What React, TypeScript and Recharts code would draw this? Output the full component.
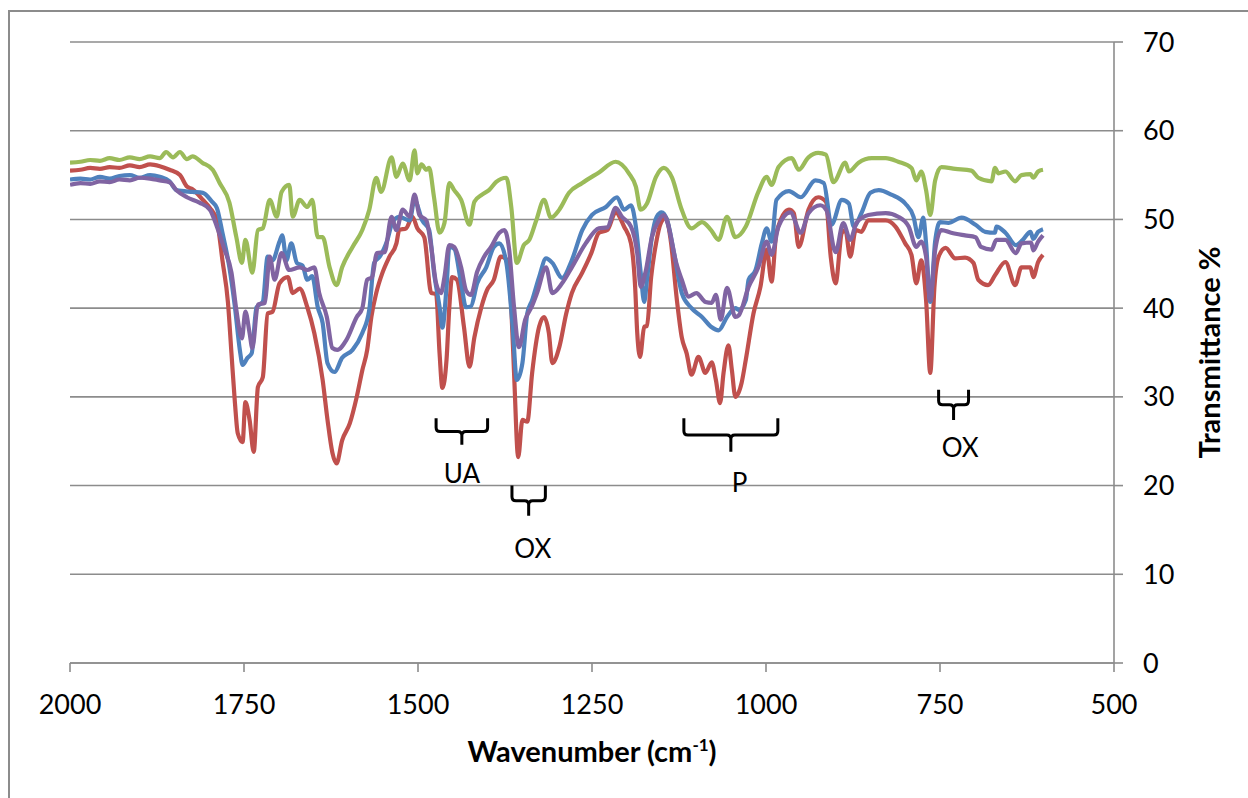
import React from 'react'
import { LineChart, Line, XAxis, YAxis, CartesianGrid, ReferenceArea, ReferenceDot, Label } from 'recharts'

type Pt = [number, number]

const xTicks = [2000, 1750, 1500, 1250, 1000, 750, 500]
const yTicks = [0, 10, 20, 30, 40, 50, 60, 70]

// wavenumber (cm-1), transmittance (%)
const redSpectrum: Pt[] = [
  [2000, 55.5], [1985, 55.6], [1971, 55.8], [1957, 55.7], [1943, 55.9], [1929, 55.8], [1914, 56.1], [1900, 55.9],
  [1885, 56.2], [1871, 56], [1857, 55.6], [1842, 55], [1832, 53.7], [1824, 53.4],
  [1809, 52.2], [1799, 51.3], [1789, 49.9], [1781, 45.4], [1773, 40.6], [1768, 34.9], [1763, 29.3], [1759, 25.9],
  [1752, 24.9], [1748, 29.4], [1742, 27.4], [1736, 23.8], [1730, 31.1], [1723, 32.2], [1716, 39.4], [1709, 39.6],
  [1699, 42.8], [1687, 43.5], [1680, 41.7], [1670, 42.2], [1659, 40.1], [1649, 37.2], [1637, 31.9], [1630, 27.4],
  [1623, 23.7], [1617, 22.5], [1609, 25.1], [1598, 27], [1588, 30], [1580, 33], [1573, 35.3], [1567, 39],
  [1560, 41.7], [1551, 44], [1541, 45.8], [1531, 47.3], [1527, 48.8], [1517, 49], [1508, 50.3], [1501, 49],
  [1491, 48], [1481, 41.7], [1474, 41.6], [1469, 34.9], [1465, 31], [1459, 34.2], [1455, 40.1], [1451, 43.5],
  [1444, 43.2], [1434, 37.9], [1426, 33.4], [1419, 36.7], [1409, 40.1], [1401, 42], [1391, 43.2], [1381, 45.8],
  [1373, 45.5], [1366, 40.1], [1362, 32.7], [1356, 23.2], [1350, 27.4], [1343, 27.2], [1336, 32.7], [1326, 37.9],
  [1319, 39], [1312, 37.2], [1307, 33.8], [1297, 35.6], [1287, 39.4], [1279, 41.7], [1264, 44], [1251, 46.2],
  [1240, 48.5], [1228, 48.8], [1216, 50.8], [1204, 49.2], [1194, 47.3], [1188, 42.4], [1185, 37.2], [1181, 34.5],
  [1175, 37.9], [1171, 38], [1165, 43.5], [1158, 47.3], [1151, 49.6], [1144, 50.2], [1137, 47.7], [1128, 40.9],
  [1121, 36.7], [1114, 34.9], [1107, 32.5], [1097, 34.5], [1087, 32.7], [1078, 33.9], [1072, 31.9], [1066, 29.3],
  [1061, 32.7], [1054, 35.8], [1049, 33], [1044, 30], [1035, 31.6], [1029, 34.2], [1018, 39.4], [1008, 42.4],
  [999, 46.6], [992, 43], [985, 48.5], [967, 51.1], [960, 50.7], [953, 46.9], [939, 51.1], [925, 52.5],
  [914, 52], [907, 45.8], [900, 42.8], [891, 48.5], [886, 48.8], [879, 45.8], [871, 48.8], [863, 48.6],
  [853, 49.9], [828, 49.9], [814, 49.2], [800, 47.3], [791, 46], [784, 42.8], [777, 45.4], [770, 40.9],
  [764, 32.7], [758, 42.4], [752, 45.8], [742, 46.8], [728, 45.6], [714, 45.7], [702, 45.1], [695, 43.2],
  [681, 42.6], [671, 43.7], [656, 45.2], [642, 42.6], [633, 44.6], [620, 44.6], [616, 43.5], [609, 45.2],
  [602, 46],
]

const greenSpectrum: Pt[] = [
  [2000, 56.4], [1985, 56.5], [1971, 56.7], [1957, 56.6], [1943, 56.9], [1929, 56.7], [1914, 57], [1900, 56.8],
  [1885, 57.1], [1871, 56.9], [1862, 57.6], [1852, 57], [1842, 57.6], [1832, 56.8], [1824, 57.1], [1810, 56.4],
  [1795, 55.6],
  [1785, 54.1], [1771, 51.9], [1761, 48], [1753, 45.1], [1748, 47.7], [1738, 44], [1730, 48.8], [1723, 49],
  [1713, 52.2], [1703, 50.3], [1696, 53.1], [1685, 53.9], [1680, 50.3], [1670, 52.2], [1659, 51.4], [1652, 52.2],
  [1644, 48], [1637, 48], [1627, 44.6], [1617, 42.6], [1609, 44.6], [1594, 46.9], [1580, 48.8], [1570, 51.1],
  [1560, 54.7], [1553, 53.1], [1538, 57], [1531, 54.8], [1522, 56.3], [1512, 54.4], [1505, 57.8], [1501, 55.2],
  [1495, 56.2], [1488, 55.6], [1484, 55.8], [1477, 52.5], [1469, 48.5], [1462, 49.6], [1455, 54.1], [1448, 53.3],
  [1438, 52.2], [1426, 49.4], [1419, 52], [1408, 52.8], [1398, 53.3], [1388, 54.2], [1373, 54.7], [1366, 51.4],
  [1358, 45.1], [1348, 47.1], [1340, 47.7], [1330, 49.9], [1319, 52.2], [1309, 50.2], [1297, 51.1], [1283, 53],
  [1264, 54.1], [1240, 55.3], [1216, 56.5], [1197, 55.2], [1187, 53.7], [1180, 51.1], [1171, 51.8], [1158, 54.8],
  [1147, 55.8], [1135, 54.7], [1122, 51.3], [1107, 49], [1092, 49.7], [1079, 48.8], [1068, 47.7], [1056, 50.3],
  [1044, 48], [1029, 49.2], [1011, 53.1], [999, 54.8], [992, 53.9], [982, 55.9], [963, 56.9], [953, 55.6],
  [939, 57], [925, 57.5], [914, 57.3], [903, 54.2], [886, 56.4], [881, 55.4], [867, 56.4], [848, 56.9],
  [828, 56.9], [810, 56.5], [791, 55.8], [784, 54.4], [777, 55.4], [770, 53.3], [764, 50.5], [757, 54.4],
  [748, 55.9], [728, 55.7], [705, 55.5], [695, 54.7], [676, 54.3], [671, 55.8], [666, 55.2], [656, 55.4],
  [642, 54.3], [633, 55], [620, 55.1], [616, 54.7], [609, 55.4], [602, 55.6],
]

const blueSpectrum: Pt[] = [
  [2000, 54.5], [1985, 54.6], [1971, 54.5], [1957, 54.8], [1943, 54.6], [1929, 54.9], [1914, 55], [1900, 54.7],
  [1885, 55], [1871, 54.8], [1857, 54.3], [1847, 53.3], [1824, 53.1], [1809, 53],
  [1796, 52], [1789, 51.3], [1781, 48.5], [1771, 44.6], [1763, 40.1], [1756, 35.3], [1752, 33.6], [1745, 34.4],
  [1739, 34.9], [1732, 40.1], [1723, 40.7], [1716, 45.8], [1709, 45.4], [1699, 47.5], [1695, 48.2], [1689, 45.4],
  [1682, 47.3], [1674, 45.1], [1666, 44.8], [1659, 43.2], [1652, 43.6], [1644, 40.1], [1637, 38.3], [1630, 33.8],
  [1620, 32.8], [1609, 34.4], [1594, 35.3], [1580, 37.2], [1570, 39.8], [1563, 45.1], [1555, 45.8], [1544, 47.7],
  [1537, 49.6], [1527, 50.3], [1512, 49.9], [1505, 52.2], [1494, 49.9], [1484, 48.8], [1477, 44], [1469, 40.1],
  [1465, 37.8], [1459, 42.4], [1455, 46.9], [1448, 46.7], [1438, 42.8], [1431, 40.1], [1424, 40.2], [1415, 42.8],
  [1402, 44.6], [1391, 46.9], [1383, 47.3], [1373, 45.1], [1364, 37.9], [1358, 31.9], [1350, 33.8], [1343, 39.4],
  [1336, 40.9], [1326, 43.5], [1316, 45.6], [1307, 45.1], [1293, 43.4], [1279, 45.4], [1264, 48.8], [1250, 50.5],
  [1230, 51.4], [1214, 52.5], [1204, 51.1], [1194, 51.6], [1187, 49.2], [1180, 44], [1175, 40.7], [1171, 43.2],
  [1164, 48], [1157, 50.3], [1150, 50.8], [1142, 49.9], [1132, 46.2], [1121, 41.7], [1107, 40], [1092, 39],
  [1079, 37.9], [1068, 37.5], [1056, 39], [1044, 40], [1039, 39.8], [1029, 40.9], [1025, 43.2], [1015, 44.3],
  [1006, 47.3], [999, 49], [992, 47.5], [985, 52.2], [967, 53.2], [950, 52.5], [929, 54.4], [917, 54.1],
  [906, 49.4], [891, 52.2], [881, 51.8], [874, 49.2], [863, 50.7], [850, 53], [838, 53.3], [820, 52.8],
  [800, 51.8], [788, 50.3], [781, 48], [774, 50.2], [770, 47.3], [764, 40.7], [757, 47.5], [750, 49.7],
  [738, 49.6], [719, 50.2], [699, 49.4], [685, 48.6], [671, 48.5], [669, 49.2], [656, 48.5], [641, 47.1],
  [631, 47.7], [620, 48.6], [616, 47.8], [609, 48.6], [602, 48.9],
]

const purpleSpectrum: Pt[] = [
  [2000, 53.9], [1985, 54.1], [1971, 54], [1957, 54.3], [1943, 54.2], [1929, 54.5], [1914, 54.4], [1900, 54.7],
  [1885, 54.6], [1871, 54.4], [1857, 54.2], [1847, 53.3], [1832, 52.5], [1814, 51.9],
  [1799, 51.1], [1789, 49.2], [1778, 46.6], [1768, 44], [1761, 39.8], [1753, 36.6], [1748, 39.6], [1742, 37.2],
  [1738, 35.5], [1730, 40.4], [1720, 40.6], [1713, 45.8], [1706, 43.2], [1696, 46.2], [1685, 44.3], [1670, 44.6],
  [1659, 44.3], [1649, 44.6], [1642, 41.7], [1631, 39], [1623, 35.5], [1616, 35.3], [1603, 36.4], [1588, 39],
  [1580, 40], [1573, 43.2], [1566, 43.5], [1559, 46.2], [1548, 46.3], [1538, 50.3], [1531, 48.8], [1522, 51.1],
  [1512, 50.3], [1505, 52.8], [1498, 50.5], [1488, 49.9], [1481, 46.9], [1474, 42.8], [1467, 41.7], [1462, 43.5],
  [1455, 47.1], [1448, 46.9], [1438, 44.6], [1431, 42], [1424, 41.5], [1415, 44.1], [1405, 45.8], [1395, 46.9],
  [1383, 48.5], [1376, 48.8], [1369, 46.6], [1362, 40.1], [1355, 35.6], [1346, 38.7], [1337, 40.1], [1329, 41.7],
  [1316, 44.6], [1307, 41.7], [1293, 42.8], [1279, 44.6], [1259, 47.3], [1240, 49], [1228, 49.1], [1216, 51.3],
  [1207, 50.3], [1194, 49.2], [1185, 46.2], [1180, 42.4], [1173, 44.1], [1164, 48], [1154, 49.9], [1147, 50.5],
  [1140, 49.2], [1130, 45.4], [1121, 43.2], [1111, 41.3], [1100, 41.7], [1087, 40.7], [1078, 40.6], [1072, 41.5],
  [1065, 38.7], [1056, 42.3], [1044, 39], [1039, 39.2], [1025, 42.4], [1011, 44.6], [999, 47.5], [992, 46],
  [982, 49.2], [965, 50.8], [950, 48.5], [939, 50.7], [922, 51.6], [913, 51], [900, 46.3], [889, 49.6],
  [879, 47.7], [870, 49.6], [853, 50.5], [828, 50.7], [810, 50.3], [795, 49.2], [784, 46.9], [777, 47.5],
  [770, 45.8], [764, 40.9], [757, 46.5], [748, 48.8], [734, 48.5], [714, 48.2], [699, 48], [691, 46.9],
  [676, 46.6], [669, 47.7], [656, 47.7], [641, 46.2], [633, 47.3], [619, 47.4], [616, 46.5], [609, 47.5],
  [602, 48.2],
]

// band assignments marked under the spectra
const braces = [
  { from: 1474, to: 1400, top: 27.6, tip: 24.6, label: 'UA', labelX: 1437, labelY: 21.4 },
  { from: 1365, to: 1317, top: 20, tip: 16.6, label: 'OX', labelX: 1335, labelY: 13 },
  { from: 1118, to: 983, top: 27.6, tip: 23.8, label: 'P', labelX: 1038, labelY: 20.4 },
  { from: 752, to: 709, top: 30.8, tip: 27.4, label: 'OX', labelX: 721, labelY: 24.3 },
]

const series = [
  { name: 'red', color: '#C0504D', pts: redSpectrum },
  { name: 'green', color: '#9BBB59', pts: greenSpectrum },
  { name: 'blue', color: '#4F81BD', pts: blueSpectrum },
  { name: 'purple', color: '#8064A2', pts: purpleSpectrum },
]

const FONT = "Lato, 'Open Sans', sans-serif"
const AXIS_GREY = '#8c8c8c'

const Brace = (props: any) => {
  const x = Math.min(props.x, props.x + props.width)
  const w = Math.abs(props.width)
  const y = Math.min(props.y, props.y + props.height)
  const h = Math.abs(props.height)
  const mid = y + h / 2
  const cx = x + w / 2
  const r = 4
  const x2 = x + w
  const d =
    `M${x},${y} L${x},${mid - r} Q${x},${mid} ${x + r},${mid} L${cx - r},${mid} Q${cx},${mid} ${cx},${mid + r} L${cx},${y + h} ` +
    `M${x2},${y} L${x2},${mid - r} Q${x2},${mid} ${x2 - r},${mid} L${cx + r},${mid} Q${cx},${mid} ${cx},${mid + r}`
  return <path d={d} fill="none" stroke="#000" strokeWidth={3} />
}

const braceText = (label: string) => (props: any) => (
  <text x={props.cx} y={props.cy} textAnchor="middle" dominantBaseline="central" fontFamily={FONT} fontSize={26} fill="#000">
    {label}
  </text>
)

const XTitle = (props: any) => {
  const { viewBox } = props
  return (
    <text x={viewBox.x + viewBox.width / 2} y={viewBox.y + 99} textAnchor="middle" fontFamily={FONT} fontWeight={700} fontSize={29} fill="#000">
      Wavenumber (cm<tspan dy={-11} fontSize={17}>-1</tspan><tspan dy={11}>)</tspan>
    </text>
  )
}

const YTitle = (props: any) => {
  const { viewBox } = props
  const cx = viewBox.x + 94
  const cy = viewBox.y + viewBox.height / 2
  return (
    <text x={cx} y={cy} transform={`rotate(-90, ${cx}, ${cy})`} textAnchor="middle" dominantBaseline="central" fontFamily={FONT} fontWeight={700} fontSize={29} fill="#000">
      Transmittance %
    </text>
  )
}

export default function App() {
  return (
    <div style={{ position: 'absolute', left: 0, top: 0, width: 1248, height: 798, overflow: 'hidden', background: '#fff' }}>
      <div style={{ position: 'absolute', left: 8, top: 10, width: 1400, height: 900, borderLeft: `2px solid ${AXIS_GREY}`, borderTop: `2px solid ${AXIS_GREY}` }} />
      <LineChart width={1248} height={798} margin={{ top: 42, right: 74, bottom: 75, left: 70 }} style={{ position: 'absolute', left: 0, top: 0 }}>
        <CartesianGrid vertical={false} stroke={AXIS_GREY} strokeWidth={1.6} />
        <XAxis
          type="number"
          dataKey="wn"
          domain={[500, 2000]}
          ticks={xTicks}
          reversed
          allowDataOverflow
          height={60}
          tickSize={9}
          tickMargin={23}
          axisLine={{ stroke: AXIS_GREY, strokeWidth: 1.6 }}
          tickLine={{ stroke: AXIS_GREY, strokeWidth: 1.6 }}
          tick={{ fill: '#000', fontSize: 27, fontFamily: FONT }}
        >
          <Label content={XTitle} />
        </XAxis>
        <YAxis
          orientation="right"
          type="number"
          domain={[0, 70]}
          ticks={yTicks}
          width={60}
          tickSize={9}
          tickMargin={20}
          axisLine={{ stroke: AXIS_GREY, strokeWidth: 1.6 }}
          tickLine={{ stroke: AXIS_GREY, strokeWidth: 1.6 }}
          tick={{ fill: '#000', fontSize: 27, fontFamily: FONT, textAnchor: 'start' }}
        >
          <Label content={YTitle} />
        </YAxis>
        {series.map(s => (
          <Line
            key={s.name}
            data={s.pts.map(([wn, t]) => ({ wn, t }))}
            dataKey="t"
            type="monotone"
            stroke={s.color}
            strokeWidth={4.2}
            dot={false}
            activeDot={false}
            isAnimationActive={false}
          />
        ))}
        {braces.map((b, i) => (
          <ReferenceArea key={'b' + i} x1={b.from} x2={b.to} y1={b.tip} y2={b.top} shape={Brace} />
        ))}
        {braces.map((b, i) => (
          <ReferenceDot key={'l' + i} x={b.labelX} y={b.labelY} r={0} shape={braceText(b.label)} />
        ))}
      </LineChart>
    </div>
  )
}
